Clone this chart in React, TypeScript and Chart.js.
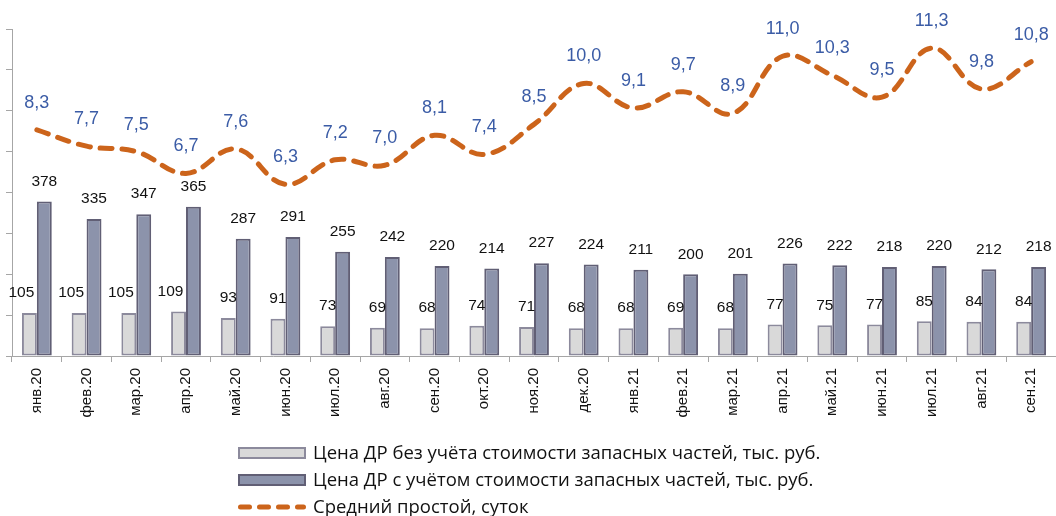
import React, { useEffect, useRef } from 'react';
import { Chart, registerables } from 'chart.js';

Chart.register(...registerables);

const categories = ['янв.20', 'фев.20', 'мар.20', 'апр.20', 'май.20', 'июн.20', 'июл.20', 'авг.20', 'сен.20', 'окт.20', 'ноя.20', 'дек.20', 'янв.21', 'фев.21', 'мар.21', 'апр.21', 'май.21', 'июн.21', 'июл.21', 'авг.21', 'сен.21'];
const priceWithoutParts = [105, 105, 105, 109, 93, 91, 73, 69, 68, 74, 71, 68, 68, 69, 68, 77, 75, 77, 85, 84, 84];
const priceWithParts = [378, 335, 347, 365, 287, 291, 255, 242, 220, 214, 227, 224, 211, 200, 201, 226, 222, 218, 220, 212, 218];
const avgDowntime = [8.3, 7.7, 7.5, 6.7, 7.6, 6.3, 7.2, 7.0, 8.1, 7.4, 8.5, 10.0, 9.1, 9.7, 8.9, 11.0, 10.3, 9.5, 11.3, 9.8, 10.8];
const seriesNames = [
  'Цена ДР без учёта стоимости запасных частей, тыс. руб.',
  'Цена ДР с учётом стоимости запасных частей, тыс. руб.',
  'Средний простой, суток',
];

const LIGHT_FILL = '#D9D9D9';
const LIGHT_BORDER = '#8C8A9C';
const DARK_FILL = '#8C93AB';
const DARK_BORDER = '#615F75';
const LINE_COLOR = '#CC641B';
const LINE_LABEL = '#3B5CA6';
const AXIS = '#A6A6A6';

const dataLabelPlugin = {
  id: 'dataLabels',
  afterDatasetsDraw(chart: any) {
    const ctx = chart.ctx;
    ctx.save();
    ctx.textAlign = 'center';
    ctx.textBaseline = 'middle';
    chart.data.datasets.forEach((ds: any, di: number) => {
      const meta = chart.getDatasetMeta(di);
      meta.data.forEach((el: any, i: number) => {
        const v = ds.data[i];
        if (ds.type === 'line') {
          ctx.font = '18px "Liberation Sans", Arial, sans-serif';
          ctx.fillStyle = LINE_LABEL;
          ctx.fillText(v.toFixed(1).replace('.', ','), el.x, el.y - 27);
        } else {
          ctx.font = '15.5px "Liberation Sans", Arial, sans-serif';
          ctx.fillStyle = '#111111';
          const txt = String(v);
          const shift = di === 0 && txt.length > 2 ? -8 : 0;
          ctx.fillText(txt, el.x + shift, el.y - 20);
        }
      });
    });
    ctx.restore();
  },
};

const legendPlugin = {
  id: 'stackedLegend',
  afterDraw(chart: any) {
    const ctx = chart.ctx;
    const x0 = 238;
    const w = 68;
    const rows = [453, 480, 507];
    ctx.save();
    ctx.font = '18.5px "Open Sans", "Noto Sans", sans-serif';
    ctx.textBaseline = 'middle';
    ctx.textAlign = 'left';
    chart.data.datasets.forEach((ds: any, i: number) => {
      const y = rows[i];
      if (ds.type === 'line') {
        ctx.strokeStyle = ds.borderColor;
        ctx.lineWidth = 5;
        ctx.lineCap = 'round';
        ctx.setLineDash([9, 10]);
        ctx.beginPath();
        ctx.moveTo(x0 + 2.5, y);
        ctx.lineTo(x0 + w - 2.5, y);
        ctx.stroke();
        ctx.setLineDash([]);
      } else {
        ctx.fillStyle = ds.backgroundColor;
        ctx.fillRect(x0, y - 6, w, 12);
        ctx.strokeStyle = ds.borderColor;
        ctx.lineWidth = 2;
        ctx.strokeRect(x0 + 1, y - 5, w - 2, 10);
      }
      ctx.fillStyle = '#111111';
      ctx.fillText(ds.label, x0 + w + 7, y + 1);
    });
    ctx.restore();
  },
};

export default function App() {
  const canvasRef = useRef<HTMLCanvasElement | null>(null);

  useEffect(() => {
    if (!canvasRef.current) return;
    const chart = new Chart(canvasRef.current, {
      data: {
        labels: categories,
        datasets: [
          {
            type: 'bar',
            label: seriesNames[0],
            data: priceWithoutParts,
            backgroundColor: LIGHT_FILL,
            borderColor: LIGHT_BORDER,
            borderWidth: 2,
            borderSkipped: false,
            yAxisID: 'y',
            order: 2,
          },
          {
            type: 'bar',
            label: seriesNames[1],
            data: priceWithParts,
            backgroundColor: DARK_FILL,
            borderColor: DARK_BORDER,
            borderWidth: 2,
            borderSkipped: false,
            yAxisID: 'y',
            order: 2,
          },
          {
            type: 'line',
            label: seriesNames[2],
            data: avgDowntime,
            borderColor: LINE_COLOR,
            backgroundColor: LINE_COLOR,
            borderWidth: 5,
            borderDash: [12, 10],
            borderCapStyle: 'round',
            borderJoinStyle: 'round',
            tension: 0.4,
            pointRadius: 0,
            fill: false,
            yAxisID: 'y1',
            order: 1,
          },
        ],
      } as any,
      options: {
        animation: false,
        responsive: true,
        maintainAspectRatio: false,
        layout: { padding: { top: 29, left: 6, right: 0, bottom: 90 } },
        datasets: {
          bar: { categoryPercentage: 0.6, barPercentage: 1 },
        } as any,
        plugins: {
          legend: { display: false },
          tooltip: { enabled: false },
        },
        scales: {
          x: {
            offset: true,
            grid: {
              offset: true,
              drawOnChartArea: false,
              drawTicks: true,
              tickLength: 6,
              color: AXIS,
            },
            border: { display: true, color: AXIS, width: 1 },
            ticks: {
              minRotation: 90,
              maxRotation: 90,
              autoSkip: false,
              padding: 6,
              color: '#111111',
              font: { family: '"Liberation Sans", Arial, sans-serif', size: 15 },
            },
            afterFit: (scale: any) => {
              scale.height = 70;
            },
          },
          y: {
            position: 'left',
            min: 0,
            max: 800,
            ticks: { stepSize: 100, display: false },
            grid: {
              drawOnChartArea: false,
              drawTicks: true,
              tickLength: 6,
              color: AXIS,
            },
            border: { display: true, color: AXIS, width: 1 },
          },
          y1: {
            display: false,
            position: 'right',
            min: 0,
            max: 12,
          },
        },
      } as any,
      plugins: [dataLabelPlugin, legendPlugin],
    });
    return () => chart.destroy();
  }, []);

  return (
    <div style={{ position: 'fixed', left: 0, top: 0, width: 1056, height: 516, background: '#ffffff' }}>
      <canvas ref={canvasRef} />
    </div>
  );
}
